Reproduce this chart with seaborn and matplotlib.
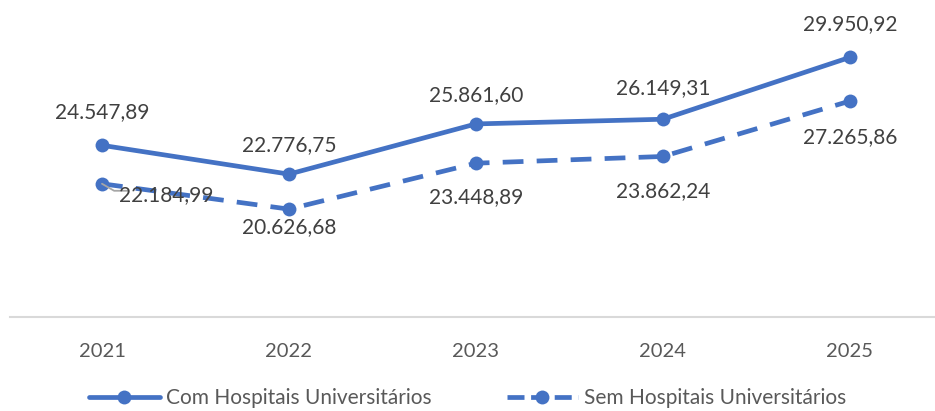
import matplotlib
matplotlib.use("Agg")
import matplotlib.pyplot as plt
import seaborn as sns
import numpy as np

years = ["2021", "2022", "2023", "2024", "2025"]
com_hu = [24547.89, 22776.75, 25861.60, 26149.31, 29950.92]
sem_hu = [22184.99, 20626.68, 23448.89, 23862.24, 27265.86]
series_names = ["Com Hospitais Universitários", "Sem Hospitais Universitários"]

def fmt_br(v):
    s = f"{v:,.2f}"
    return s.replace(",", "X").replace(".", ",").replace("X", ".")

sns.set_theme(style="white")
plt.rcParams['font.family'] = ['Lato', 'DejaVu Sans']

color = "#4472C4"
text_color = "#404040"
tick_color = "#595959"

fig = plt.figure(figsize=(9.35, 4.11), dpi=100)
ax = fig.add_axes([10/935, (411-317)/411, 925/935, 293/411])

x = np.arange(len(years))
sns.lineplot(x=x, y=com_hu, ax=ax, color=color, linewidth=3.4, marker="o",
             markersize=10, markeredgewidth=0, label=series_names[0])
sns.lineplot(x=x, y=sem_hu, ax=ax, color=color, linewidth=3.4, marker="o",
             markersize=10, markeredgewidth=0, label=series_names[1])
ax.lines[1].set_dashes((4.4, 2.8))

ax.set_xlim(-0.492, 4.455)
ax.set_ylim(14000, 32000)
ax.set_xticks(x)
ax.set_xticklabels(years, color=tick_color, fontsize=14.5)
ax.set_yticks([])
ax.tick_params(axis="x", length=0, pad=19)
for s in ["top", "right", "left"]:
    ax.spines[s].set_visible(False)
ax.spines["bottom"].set_color("#D9D9D9")
ax.spines["bottom"].set_linewidth(1.5)

# labels for solid series (above)
com_offsets = [33, 29, 29, 31, 33]
for i, (v, off) in enumerate(zip(com_hu, com_offsets)):
    ax.annotate(fmt_br(v), (i, v), textcoords="offset pixels", xytext=(0, off),
                ha="center", va="center", fontsize=15, color=text_color)

# leader line for the first dashed label
ax.annotate("", xy=(0, sem_hu[0]), textcoords="offset pixels", xytext=(26, -7),
            arrowprops=dict(arrowstyle="-", color="#A6A6A6", lw=1.3,
                            shrinkA=0, shrinkB=0,
                            connectionstyle="angle,angleA=0,angleB=-30,rad=0"))

# labels for dashed series
sem_offsets = [(64, -11), (0, -18), (0, -34), (0, -35), (0, -36)]
for i, (v, off) in enumerate(zip(sem_hu, sem_offsets)):
    ax.annotate(fmt_br(v), (i, v), textcoords="offset pixels", xytext=off,
                ha="center", va="center", fontsize=15, color=text_color)

ax.get_legend().remove()
handles, labels = ax.get_legend_handles_labels()
leg = fig.legend(handles, labels, loc="center", bbox_to_anchor=(0.5, 1 - 398/411),
                 ncol=2, frameon=False, fontsize=15, handlelength=3.4,
                 columnspacing=3.6, handletextpad=0.3, labelcolor=tick_color)
leg.get_lines()[1].set_dashes((3.6, 1.4))

fig.savefig("out.png", dpi=100)
